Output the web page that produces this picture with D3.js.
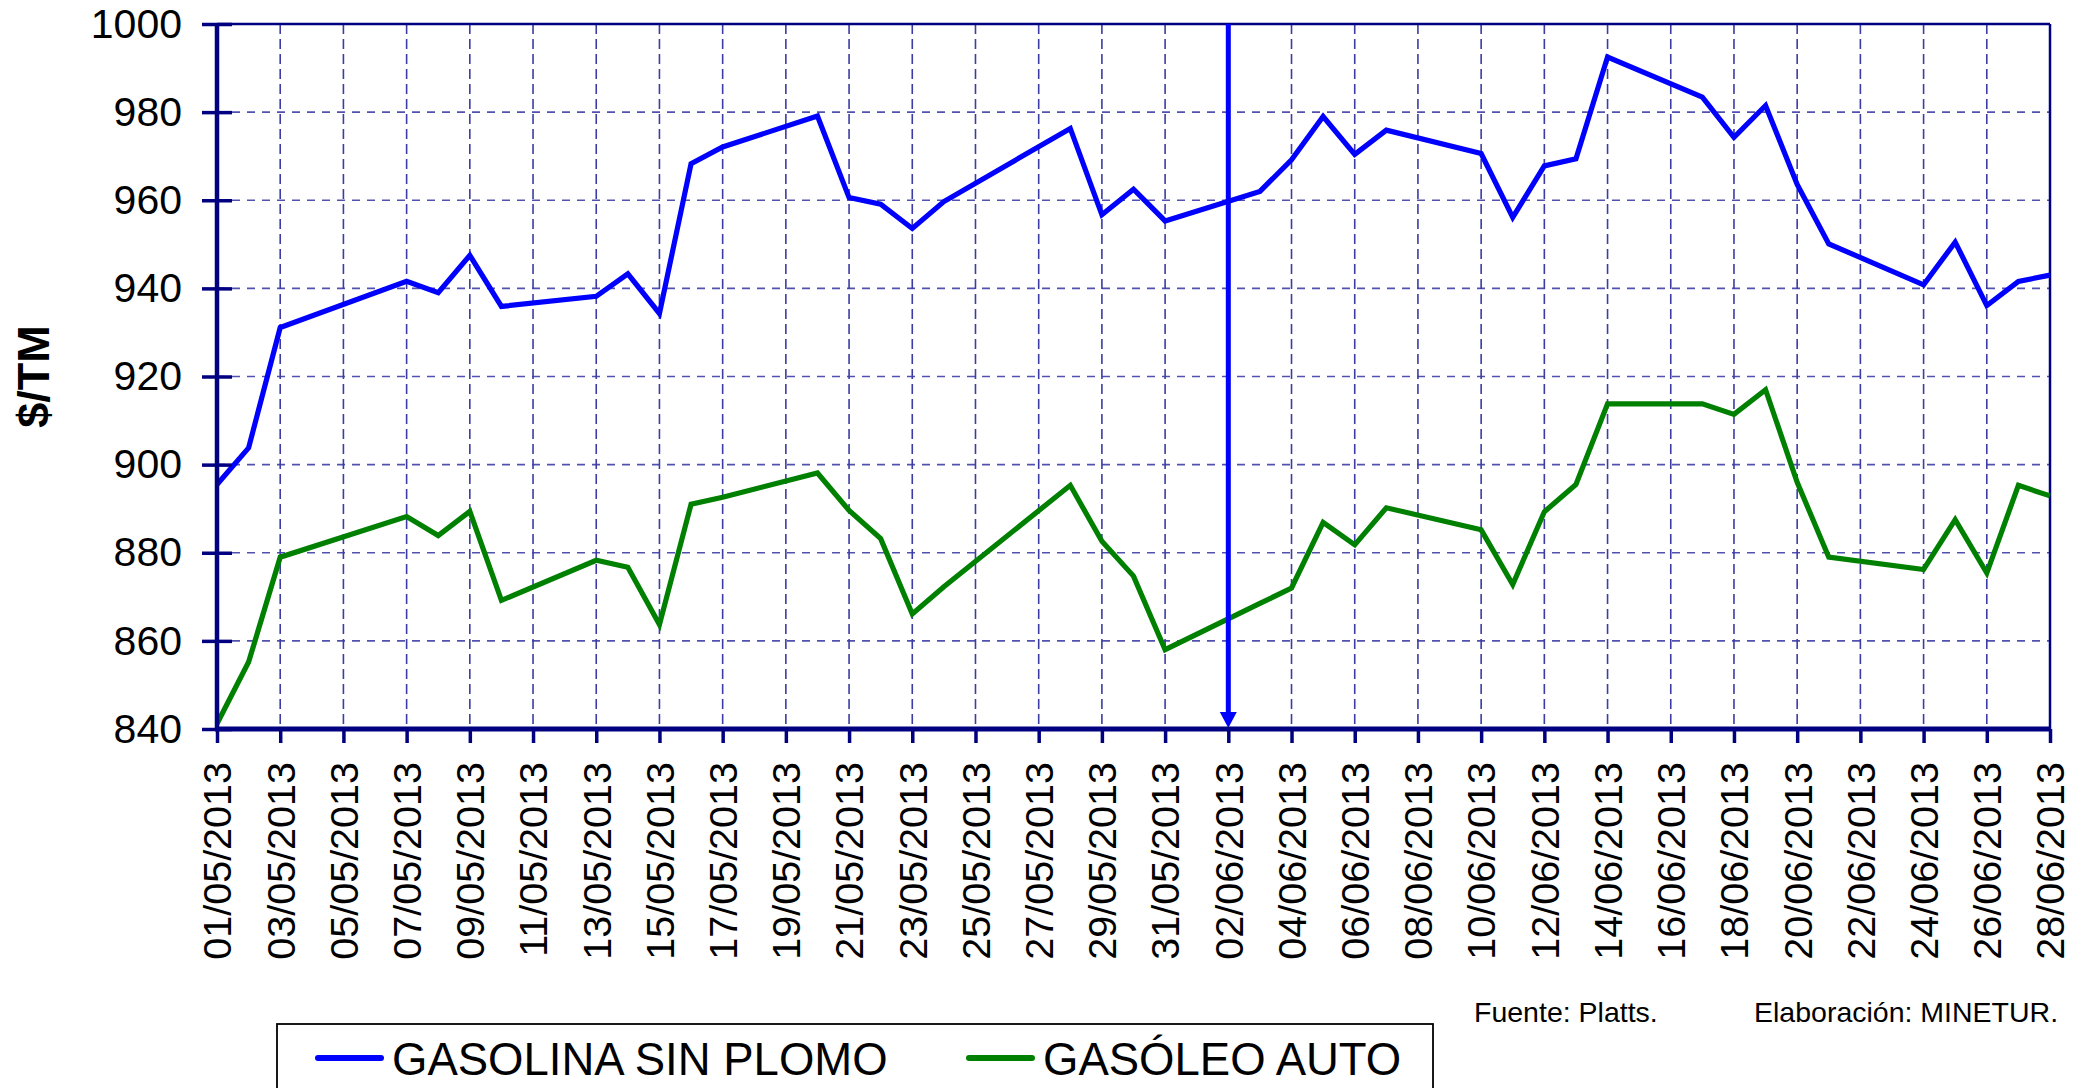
<!DOCTYPE html>
<html>
  <head>
    <meta charset="utf-8">
    <script src="https://d3js.org/d3.v7.min.js"></script>
    <title>Cotizaciones gasolina y gasóleo</title>
    <style>
      body {
        margin: 0px;
        overflow: hidden;
        background: #fff;
      }
      svg {
        display: block;
      }
      text {
        font-family: 'Liberation Sans', Arial, sans-serif;
        fill: #000;
      }
      .domain {
        display: none;
      }
      .tick line {
        stroke: #000080;
        stroke-width: 3.5;
      }
      .tick text {
        font-size: 41px;
      }
      .x-axis .tick text {
        font-size: 39.5px;
      }
      .axis-label {
        font-size: 45px;
        font-weight: bold;
      }
      .legend-label {
        font-size: 45.5px;
      }
      .note {
        font-size: 28.5px;
      }
    </style>
  </head>
  <body>
    <svg width="2085" height="1088"></svg>
    <script>
      // trading days (no data on weekends / bank holidays)
      const dates = [
        '01/05/2013', '02/05/2013', '03/05/2013', '07/05/2013', '08/05/2013', '09/05/2013', '10/05/2013',
        '13/05/2013', '14/05/2013', '15/05/2013', '16/05/2013', '17/05/2013', '20/05/2013', '21/05/2013',
        '22/05/2013', '23/05/2013', '24/05/2013', '28/05/2013', '29/05/2013', '30/05/2013', '31/05/2013',
        '03/06/2013', '04/06/2013', '05/06/2013', '06/06/2013', '07/06/2013', '10/06/2013', '11/06/2013',
        '12/06/2013', '13/06/2013', '14/06/2013', '17/06/2013', '18/06/2013', '19/06/2013', '20/06/2013',
        '21/06/2013', '24/06/2013', '25/06/2013', '26/06/2013', '27/06/2013', '28/06/2013'
      ];
      const gasolina = [
        895.5, 903.8, 931.1, 941.6, 939.0, 947.5, 935.9,
        938.2, 943.3, 934.3, 968.3, 972.1, 979.1, 960.6,
        959.1, 953.6, 959.7, 976.3, 956.7, 962.5, 955.3,
        962.0, 969.2, 979.0, 970.4, 975.9, 970.6, 956.1,
        967.8, 969.4, 992.5, 983.4, 974.3, 981.5, 963.6,
        950.1, 940.8, 950.5, 936.1, 941.6, 943.0
      ];
      const gasoleo = [
        841.2, 855.2, 879.0, 888.2, 883.9, 889.4, 869.2,
        878.3, 876.7, 863.7, 891.0, 892.6, 898.1, 889.6,
        883.2, 866.1, 872.3, 895.3, 882.6, 874.7, 858.0,
        868.5, 872.0, 886.9, 881.8, 890.2, 885.2, 872.8,
        889.3, 895.5, 913.8, 913.8, 911.4, 917.0, 896.0,
        879.0, 876.2, 887.5, 875.4, 895.3, 892.9
      ];
      const xTickLabels = [
        '01/05/2013', '03/05/2013', '05/05/2013', '07/05/2013', '09/05/2013', '11/05/2013',
        '13/05/2013', '15/05/2013', '17/05/2013', '19/05/2013', '21/05/2013', '23/05/2013',
        '25/05/2013', '27/05/2013', '29/05/2013', '31/05/2013', '02/06/2013', '04/06/2013',
        '06/06/2013', '08/06/2013', '10/06/2013', '12/06/2013', '14/06/2013', '16/06/2013',
        '18/06/2013', '20/06/2013', '22/06/2013', '24/06/2013', '26/06/2013', '28/06/2013'
      ];
      const yTicks = [840, 860, 880, 900, 920, 940, 960, 980, 1000];
      const markerDate = '02/06/2013';
      const seriesNames = ['GASOLINA SIN PLOMO', 'GASÓLEO AUTO'];
      const seriesColors = ['#0000ff', '#008000'];
      const yLabel = '$/TM';
      const notes = ['Fuente: Platts.', 'Elaboración: MINETUR.'];

      const navy = '#000080';
      const margin = { left: 217, right: 35, top: 24, bottom: 359 };

      const svg = d3.select('svg');
      const width = +svg.attr('width');
      const height = +svg.attr('height');
      const innerWidth = width - margin.left - margin.right;
      const innerHeight = height - margin.top - margin.bottom;

      const parseDate = d3.timeParse('%d/%m/%Y');
      const formatDate = d3.timeFormat('%d/%m/%Y');

      const xScale = d3.scaleTime()
        .domain([parseDate(xTickLabels[0]), parseDate(xTickLabels[xTickLabels.length - 1])])
        .range([0, innerWidth]);
      const yScale = d3.scaleLinear()
        .domain([yTicks[0], yTicks[yTicks.length - 1]])
        .range([innerHeight, 0]);

      const g = svg.append('g')
          .attr('transform', `translate(${margin.left},${margin.top})`);

      // dashed grid
      const gridG = g.append('g');
      gridG.selectAll('.hgrid').data(yTicks.slice(1, -1))
        .enter().append('line')
          .attr('x1', 0)
          .attr('x2', innerWidth)
          .attr('y1', d => yScale(d))
          .attr('y2', d => yScale(d))
          .attr('stroke', '#5252ae')
          .attr('stroke-width', 1.6)
          .attr('stroke-dasharray', '8,7');
      gridG.selectAll('.vgrid').data(xTickLabels.slice(1, -1).map(parseDate))
        .enter().append('line')
          .attr('x1', d => xScale(d))
          .attr('x2', d => xScale(d))
          .attr('y1', 0)
          .attr('y2', innerHeight)
          .attr('stroke', '#3c3ca4')
          .attr('stroke-width', 1.6)
          .attr('stroke-dasharray', '10,5');

      // frame top / right
      g.append('line')
        .attr('x1', 0).attr('x2', innerWidth)
        .attr('y1', 0).attr('y2', 0)
        .attr('stroke', navy).attr('stroke-width', 2.5);
      g.append('line')
        .attr('x1', innerWidth).attr('x2', innerWidth)
        .attr('y1', 0).attr('y2', innerHeight)
        .attr('stroke', navy).attr('stroke-width', 2.5);

      // series
      const series = [gasolina, gasoleo].map((values, k) => ({
        name: seriesNames[k],
        color: seriesColors[k],
        points: dates.map((d, i) => ({ date: parseDate(d), value: values[i] }))
      }));

      const line = d3.line()
        .x(d => xScale(d.date))
        .y(d => yScale(d.value));

      g.selectAll('.series').data(series)
        .enter().append('path')
          .attr('class', 'series')
          .attr('d', d => line(d.points))
          .attr('fill', 'none')
          .attr('stroke', d => d.color)
          .attr('stroke-width', 5.2)
          .attr('stroke-linejoin', 'miter');

      // marker arrow on 02/06
      const mx = xScale(parseDate(markerDate));
      g.append('line')
        .attr('x1', mx).attr('x2', mx)
        .attr('y1', 0).attr('y2', innerHeight - 16)
        .attr('stroke', '#0000ff')
        .attr('stroke-width', 5);
      g.append('path')
        .attr('d', `M${mx - 8.5},${innerHeight - 17}L${mx + 8.5},${innerHeight - 17}L${mx},${innerHeight - 1}Z`)
        .attr('fill', '#0000ff');

      // axes
      const xAxis = d3.axisBottom(xScale)
        .tickValues(xTickLabels.map(parseDate))
        .tickSize(14)
        .tickFormat(formatDate);
      const yAxis = d3.axisLeft(yScale)
        .tickValues(yTicks)
        .tickSize(15)
        .tickPadding(20)
        .tickFormat(d3.format('d'));

      const xAxisG = g.append('g')
          .attr('class', 'x-axis')
          .attr('transform', `translate(0,${innerHeight})`)
          .call(xAxis);
      xAxisG.selectAll('.tick text')
          .attr('transform', 'rotate(-90)')
          .attr('x', -33)
          .attr('y', 0)
          .attr('dy', '0.35em')
          .style('text-anchor', 'end');

      const yAxisG = g.append('g')
          .attr('class', 'y-axis')
          .call(yAxis);
      yAxisG.selectAll('.tick line')
          .attr('x1', 15)
          .attr('x2', -15);

      g.append('line')
        .attr('x1', 0).attr('x2', 0)
        .attr('y1', 0).attr('y2', innerHeight)
        .attr('stroke', navy).attr('stroke-width', 4.5);
      g.append('line')
        .attr('x1', -2).attr('x2', innerWidth + 1)
        .attr('y1', innerHeight).attr('y2', innerHeight)
        .attr('stroke', navy).attr('stroke-width', 5);

      svg.append('text')
        .attr('class', 'axis-label')
        .attr('transform', `translate(33,${margin.top + innerHeight / 2}) rotate(-90)`)
        .attr('dy', '0.35em')
        .style('text-anchor', 'middle')
        .text(yLabel);

      // source notes
      svg.selectAll('.note').data(notes)
        .enter().append('text')
          .attr('class', 'note')
          .attr('x', (d, i) => [1474, 1754][i])
          .attr('y', 1022)
          .text(d => d);

      // legend (box runs past the bottom edge, as in the original)
      const legendG = svg.append('g')
          .attr('transform', 'translate(277,1024)');
      legendG.append('rect')
        .attr('width', 1156)
        .attr('height', 90)
        .attr('fill', '#fff')
        .attr('stroke', '#000')
        .attr('stroke-width', 1.8);
      const legendItem = legendG.selectAll('.item').data(series)
        .enter().append('g')
          .attr('transform', (d, i) => `translate(${[41, 692][i]},0)`);
      legendItem.append('line')
        .attr('x1', 0).attr('x2', 63)
        .attr('y1', 34).attr('y2', 34)
        .attr('stroke', d => d.color)
        .attr('stroke-width', 6)
        .attr('stroke-linecap', 'round');
      legendItem.append('text')
        .attr('class', 'legend-label')
        .attr('x', 74)
        .attr('y', 51)
        .text(d => d.name);
    </script>
  </body>
</html>
